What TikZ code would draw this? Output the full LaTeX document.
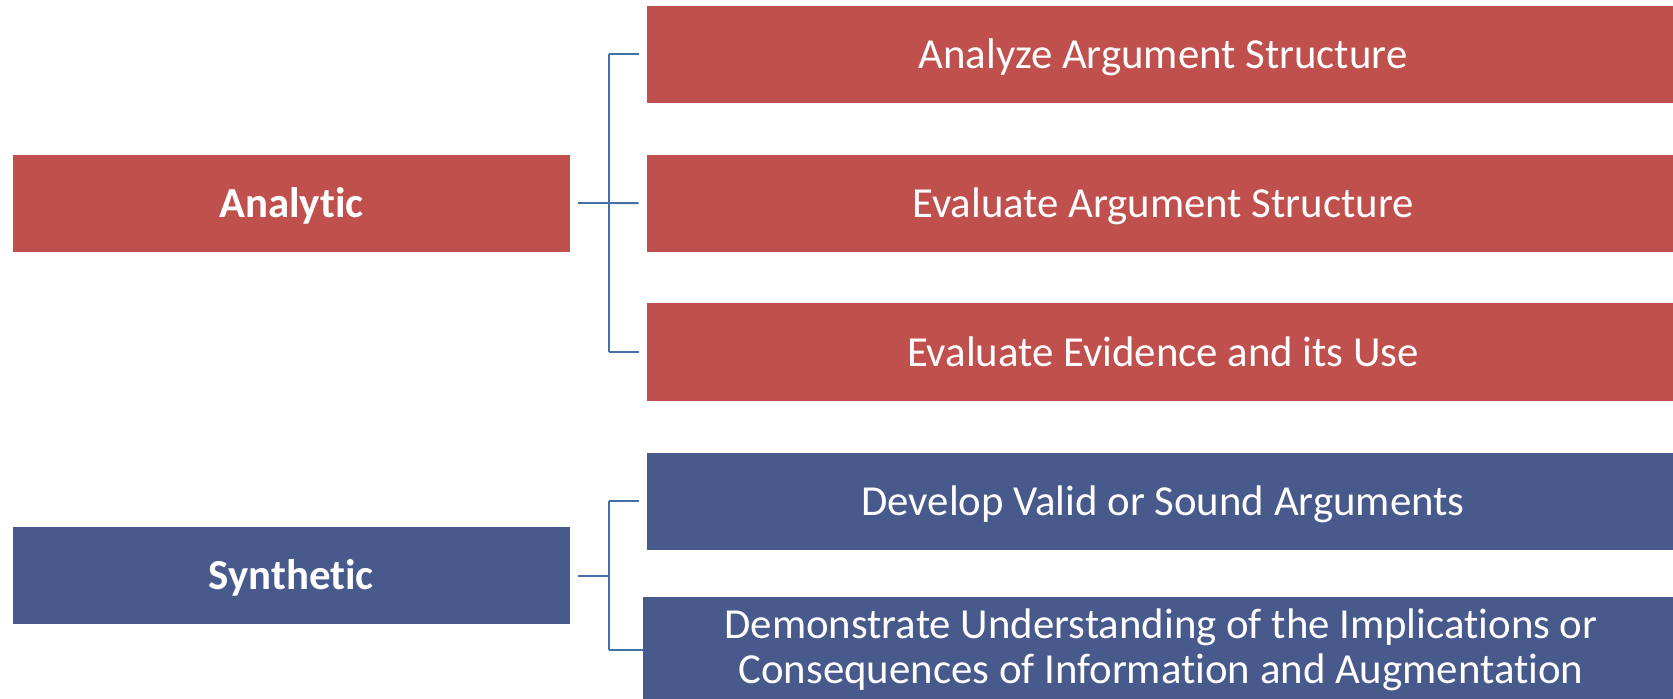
\documentclass[tikz,border=0pt]{standalone}
\usepackage{fontspec}
\setmainfont{Carlito}[Ligatures=NoCommon]
\definecolor{redbox}{HTML}{C0504D}
\definecolor{bluebox}{HTML}{485A8C}
\definecolor{connc}{HTML}{4470A8}
\begin{document}
\begin{tikzpicture}[x=0.5pt,y=-0.5pt,
  box/.style={fill=#1,draw=none,text=white,inner sep=0pt,
    text height=14.1pt,text depth=0pt,
    font=\fontsize{21.4}{21.7}\selectfont},
  parent/.style={box=#1,font=\fontsize{21.4}{21.7}\selectfont\bfseries},
  conn/.style={draw=connc,line width=1pt}]
\useasboundingbox (0,0) rectangle (1673,699);
% parents
\node[parent=redbox,minimum width=278.75pt,minimum height=48.5pt] (an) at (291.25,203.25) {Analytic};
\node[parent=bluebox,minimum width=278.75pt,minimum height=48.5pt] (sy) at (291.25,575.6) {Synthetic};
% children
\node[box=redbox,minimum width=516pt,minimum height=48.25pt] (a1) at (1163,54.3) {Analyze Argument Structure};
\node[box=redbox,minimum width=516pt,minimum height=48.5pt] (a2) at (1163,203.1) {Evaluate Argument Structure};
\node[box=redbox,minimum width=516pt,minimum height=48.75pt] (a3) at (1163,352.2) {Evaluate Evidence and its Use};
\node[box=bluebox,minimum width=516pt,minimum height=48.5pt] (s1) at (1163,501.2) {Develop Valid or Sound Arguments};
\node[box=bluebox,text height=0pt,text depth=11.7pt,minimum width=518pt,minimum height=53pt,
  font=\fontsize{21.4}{22.4}\selectfont] (s2) at (1161,650) {\begin{tabular}[t]{@{}c@{}}Demonstrate Understanding of the Implications or\\Consequences of Information and Augmentation\end{tabular}};
% connectors analytic
\coordinate (aj) at (609,203.25);
\draw[conn] ([xshift=4pt]an.east) -- (aj);
\draw[conn] (aj |- a1.west) -- (aj |- a3.west);
\draw[conn] (aj |- a1.west) -- ([xshift=-4pt]a1.west);
\draw[conn] (aj) -- ([xshift=-4pt]a2.west);
\draw[conn] (aj |- a3.west) -- ([xshift=-4pt]a3.west);
% connectors synthetic
\coordinate (sj) at (609,575.6);
\draw[conn] ([xshift=4pt]sy.east) -- (sj);
\draw[conn] (sj |- s1.west) -- (sj |- s2.west);
\draw[conn] (sj |- s1.west) -- ([xshift=-4pt]s1.west);
\draw[conn] (sj |- s2.west) -- (s2.west);
\end{tikzpicture}
\end{document}
